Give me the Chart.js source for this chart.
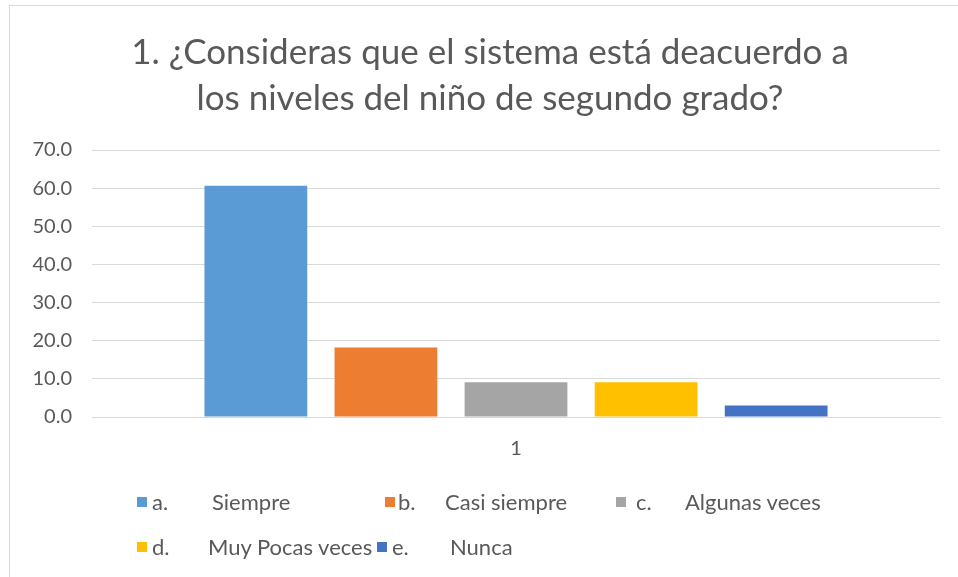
<!DOCTYPE html>
<html>
<head>
<meta charset="utf-8">
<script src="https://cdn.jsdelivr.net/npm/chart.js@4"></script>
<style>
  html, body { margin: 0; padding: 0; background: #fff; }
  #wrap { position: relative; width: 958px; height: 577px; overflow: hidden; }
  #frame { position: absolute; left: 9px; top: 5px; width: 1000px; height: 600px;
           border-left: 1px solid #d9d9d9; border-top: 1px solid #d9d9d9; box-sizing: border-box; }
  #c { position: absolute; left: 0; top: 0; }
  #title { position: absolute; left: 0; top: 27px; width: 980px; text-align: center;
           font-family: Lato, "Open Sans", sans-serif; font-size: 35px; line-height: 46px; color: #595959; white-space: pre; }
  .lg { position: absolute; font-family: Lato, "Open Sans", sans-serif; font-size: 22px; color: #595959; white-space: pre; line-height: 26px; }
  .sq { position: absolute; width: 10px; height: 10px; }
</style>
</head>
<body>
<div id="wrap">
  <div id="frame"></div>
  <canvas id="c" width="958" height="577"></canvas>
  <div id="title"></div>
  <div id="legend"></div>
</div>
<script>
const titleLines = ["1. ¿Consideras que el sistema está deacuerdo a", "los niveles del niño de segundo grado?"];
const categories = ["1"];
const seriesNames = ["Siempre", "Casi siempre", "Algunas veces", "Muy Pocas veces", "Nunca"];
const seriesLetters = ["a.", "b.", "c.", "d.", "e."];
const seriesValues = [60.6, 18.2, 9.1, 9.1, 3.0];
const seriesColors = ["#5B9BD5", "#ED7D31", "#A5A5A5", "#FFC000", "#4472C4"];
const yTicks = [0, 10, 20, 30, 40, 50, 60, 70];

document.getElementById('title').textContent = titleLines.join("\n");

const datasets = seriesNames.map((n, i) => ({
  label: seriesLetters[i] + " " + n,
  data: [seriesValues[i]],
  backgroundColor: seriesColors[i],
  borderWidth: 0,
  categoryPercentage: 0.767,
  barPercentage: 0.79
}));

const FONT = 'Lato, "Open Sans", sans-serif';

new Chart(document.getElementById('c'), {
  type: 'bar',
  data: { labels: categories, datasets: datasets },
  options: {
    responsive: false,
    animation: false,
    layout: { padding: { left: 10, right: 18, top: 150, bottom: 115 } },
    plugins: {
      legend: { display: false },
      tooltip: { enabled: false },
      title: { display: false }
    },
    scales: {
      x: {
        grid: { display: false, drawTicks: false },
        border: { display: true, color: '#d9d9d9', width: 1 },
        ticks: { color: '#595959', font: { family: FONT, size: 20 }, padding: 20 },
        afterFit: s => { s.height = 45; }
      },
      y: {
        min: 0, max: 70,
        afterBuildTicks: s => { s.ticks = yTicks.map(v => ({ value: v })); },
        grid: { color: '#d9d9d9', lineWidth: 1, drawTicks: false },
        border: { display: false },
        ticks: { color: '#595959', font: { family: FONT, size: 20 }, padding: 20,
                 callback: v => Number(v).toFixed(1) },
        afterFit: s => { s.width = 82; }
      }
    }
  }
});

// legend (HTML, real text)
const legendPos = [
  { sx: 137, y: 502, lx: 152, tx: 212 },
  { sx: 385, y: 502, lx: 398, tx: 445 },
  { sx: 616, y: 502, lx: 636, tx: 685 },
  { sx: 137, y: 547, lx: 152, tx: 208 },
  { sx: 377, y: 547, lx: 392, tx: 450 }
];
const lg = document.getElementById('legend');
seriesNames.forEach((n, i) => {
  const p = legendPos[i];
  const sq = document.createElement('div');
  sq.className = 'sq';
  sq.style.left = p.sx + 'px';
  sq.style.top = (p.y - 5) + 'px';
  sq.style.background = seriesColors[i];
  lg.appendChild(sq);
  const l = document.createElement('div');
  l.className = 'lg';
  l.style.left = p.lx + 'px';
  l.style.top = (p.y - 13) + 'px';
  l.textContent = seriesLetters[i];
  lg.appendChild(l);
  const t = document.createElement('div');
  t.className = 'lg';
  t.style.left = p.tx + 'px';
  t.style.top = (p.y - 13) + 'px';
  t.textContent = n;
  lg.appendChild(t);
});
</script>
</body>
</html>
